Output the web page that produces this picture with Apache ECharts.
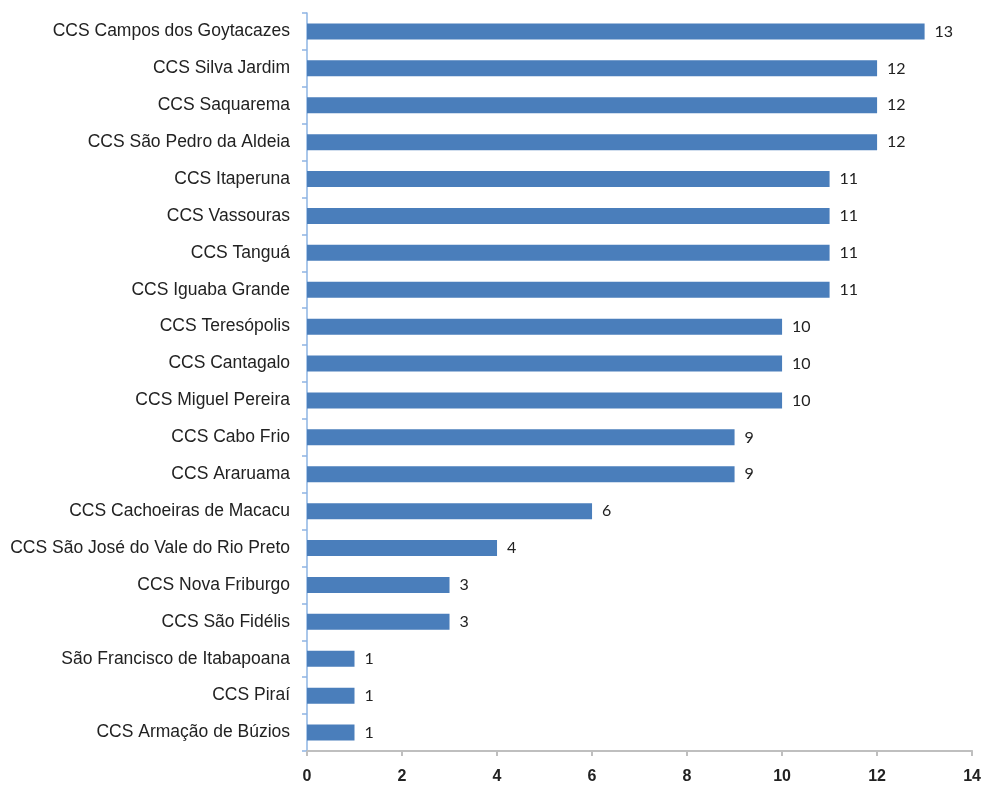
<!DOCTYPE html>
<html>
<head>
<meta charset="utf-8">
<script src="https://cdn.jsdelivr.net/npm/echarts@6/dist/echarts.min.js"></script>
<style>
  html, body { margin: 0; padding: 0; background: #fff; }
  #chart { width: 984px; height: 785px; }
</style>
</head>
<body>
<div id="chart"></div>
<script>
// categories listed bottom -> top (ECharts category axis starts at the bottom)
const categories = [
  "CCS Armação de Búzios",
  "CCS Piraí",
  "São Francisco de Itabapoana",
  "CCS São Fidélis",
  "CCS Nova Friburgo",
  "CCS São José do Vale do Rio Preto",
  "CCS Cachoeiras de Macacu",
  "CCS Araruama",
  "CCS Cabo Frio",
  "CCS Miguel Pereira",
  "CCS Cantagalo",
  "CCS Teresópolis",
  "CCS Iguaba Grande",
  "CCS Tanguá",
  "CCS Vassouras",
  "CCS Itaperuna",
  "CCS São Pedro da Aldeia",
  "CCS Saquarema",
  "CCS Silva Jardim",
  "CCS Campos dos Goytacazes"
];
const values = [1, 1, 1, 3, 3, 4, 6, 9, 9, 10, 10, 10, 11, 11, 11, 11, 12, 12, 12, 13];

const chart = echarts.init(document.getElementById("chart"));

chart.setOption({
  animation: false,
  backgroundColor: "#fff",
  grid: { left: 307, right: 11, top: 13, bottom: 34, containLabel: false },
  xAxis: {
    type: "value",
    min: 0,
    max: 14,
    interval: 2,
    axisLine: { show: true, lineStyle: { color: "#bfbfbf", width: 2 } },
    axisTick: { show: true, length: 5, lineStyle: { color: "#bfbfbf", width: 2 } },
    splitLine: { show: false },
    axisLabel: {
      margin: 18,
      color: "#222",
      fontFamily: "Liberation Sans, Arial, sans-serif",
      fontWeight: "bold",
      fontSize: 16
    }
  },
  yAxis: {
    type: "category",
    data: categories,
    axisLine: { show: true, lineStyle: { color: "#8eb4e3", width: 1.5 } },
    axisTick: { show: true, length: 5, lineStyle: { color: "#8eb4e3", width: 1.5 } },
    axisLabel: {
      margin: 17,
      color: "#222",
      fontFamily: "Liberation Sans, Arial, sans-serif",
      fontSize: 17.5
    }
  },
  series: [{
    type: "bar",
    data: values,
    barWidth: 16,
    itemStyle: { color: "#4a7ebb" },
    label: {
      show: true,
      position: "right",
      distance: 10,
      color: "#222",
      fontFamily: "Lato, Open Sans, sans-serif",
      fontSize: 16
    }
  }]
});
</script>
</body>
</html>
